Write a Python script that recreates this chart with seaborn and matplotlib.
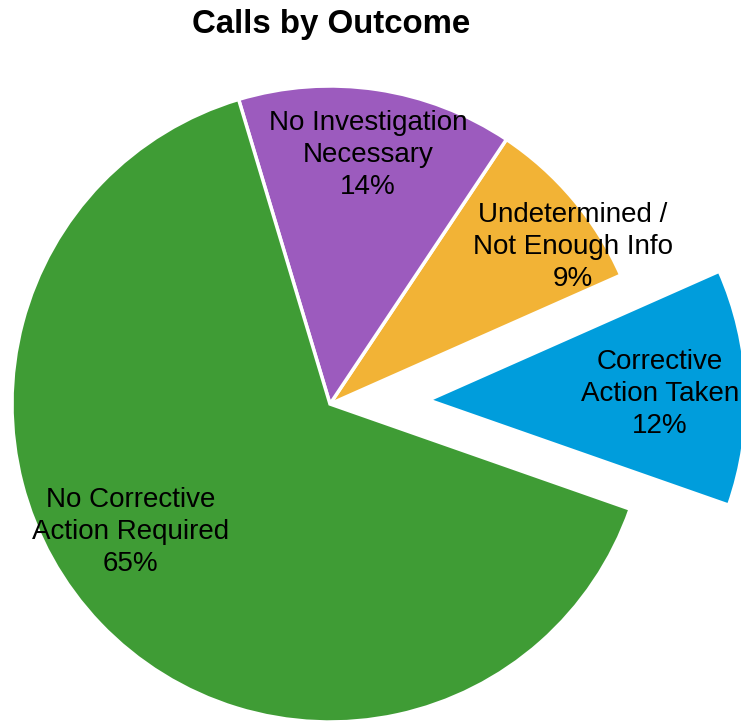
import matplotlib
matplotlib.use("Agg")
import matplotlib.pyplot as plt
import seaborn as sns
import numpy as np

# Call outcome shares (percent)
outcomes = ["Corrective\nAction Taken", "Undetermined /\nNot Enough Info",
            "No Investigation\nNecessary", "No Corrective\nAction Required"]
shares = [12, 9, 14, 65]
slice_colors = ["#009DDC", "#F2B336", "#9C5BBE", "#3F9C35"]
explode = [0.31, 0, 0, 0]
# label anchor points in pie-radius units
label_xy = [(1.038, 0.031), (0.764, 0.494), (0.119, 0.783), (-0.626, -0.403)]

sns.set_theme(style="white")
plt.rcParams["font.family"] = ["Liberation Sans", "DejaVu Sans"]

W, H, dpi = 741, 723, 100
fig = plt.figure(figsize=(W / dpi, H / dpi), dpi=dpi)
ax = fig.add_axes([0, 0, 1, 1])

wedges, _ = ax.pie(shares, colors=slice_colors, explode=explode,
                   startangle=-19.3, counterclock=True, radius=1.0,
                   wedgeprops=dict(edgecolor="white", linewidth=2.5))

for (x, y), name, v in zip(label_xy, outcomes, shares):
    ax.text(x, y, f"{name}\n{v}%", ha="center", va="center",
            fontsize=20, color="black", linespacing=1.29)

# centre the pie at (330, 404) px with a 318 px radius
cx, cy, r = 330, 404, 318
ax.set_xlim(-cx / r, (W - cx) / r)
ax.set_ylim(-(H - cy) / r, cy / r)
ax.set_aspect("auto")
ax.axis("off")

fig.text(331 / W, 1 - 25 / H, "Calls by Outcome", ha="center", va="center",
         fontsize=23.8, fontweight="bold", color="black")

fig.savefig("out.png", dpi=dpi, facecolor="white")
